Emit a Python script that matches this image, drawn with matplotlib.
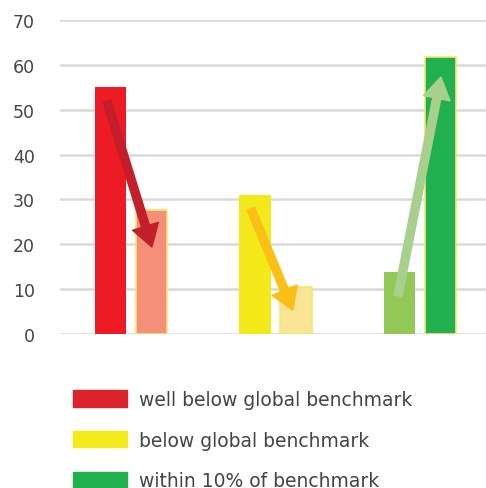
import numpy as np
from matplotlib import pyplot as plt
from matplotlib.patches import Patch

groups = [0, 1, 2]
before = [55, 31, 13.8]
after = [27.6, 10.5, 61.8]
before_colors = ['#ed1c24', '#f2e81a', '#92c855']
after_colors = ['#f4907a', '#fae596', '#21b04f']

# arrows: (x0, y0, x1, y1) in data units
arrows = [(-0.166, 51.9, 0.145, 19.4),
          (0.83, 27.9, 1.12, 5.3),
          (1.848, 8.5, 2.145, 57.3)]
arrow_colors = ['#c41e2a', '#fbbf16', '#a8d08d']

legend_labels = ['well below global benchmark', 'below global benchmark',
                 'within 10% of benchmark']
legend_colors = ['#dc232c', '#f3ea1a', '#21b04f']

plt.rcParams['font.family'] = ['DejaVu Sans']

fig = plt.figure(figsize=(4.86, 4.89), dpi=100)
ax = fig.add_axes([60/486, 154/489, 426/486, 314/489])

x = np.array(groups)
w = 0.22
off = 0.142
ax.bar(x - off, before, w, color=before_colors, zorder=2)
ax.bar(x + off, after, w, color=after_colors, edgecolor='#f9e56a', linewidth=1.2, zorder=2)

for (x0, y0, x1, y1), c in zip(arrows, arrow_colors):
    ax.annotate('', xy=(x1, y1), xytext=(x0, y0),
                arrowprops=dict(arrowstyle='simple,head_length=1.2,head_width=1.5,tail_width=0.45',
                                color=c, shrinkA=0, shrinkB=0, mutation_scale=13),
                zorder=3)

ax.set_xlim(-0.491, 2.457)
ax.set_ylim(0, 70)
ax.set_yticks(range(0, 71, 10))
ax.set_xticks([])
ax.grid(axis='y', color='#d9d9d9', linewidth=1.8, zorder=0)
for s in ax.spines.values():
    s.set_visible(False)
ax.tick_params(axis='y', length=0, pad=18, labelsize=12.5, labelcolor='#444444')
for lab in ax.get_yticklabels():
    lab.set_clip_on(False)

handles = [Patch(color=c) for c in legend_colors]
fig.legend(handles, legend_labels, loc='upper left', bbox_to_anchor=(73/486, 1 - 391/489),
           frameon=False, fontsize=13.5, handlelength=2.88, handleheight=0.96,
           handletextpad=0.64, labelspacing=1.16, labelcolor='#444444',
           borderaxespad=0, borderpad=0)

fig.savefig('out.png', dpi=100)
